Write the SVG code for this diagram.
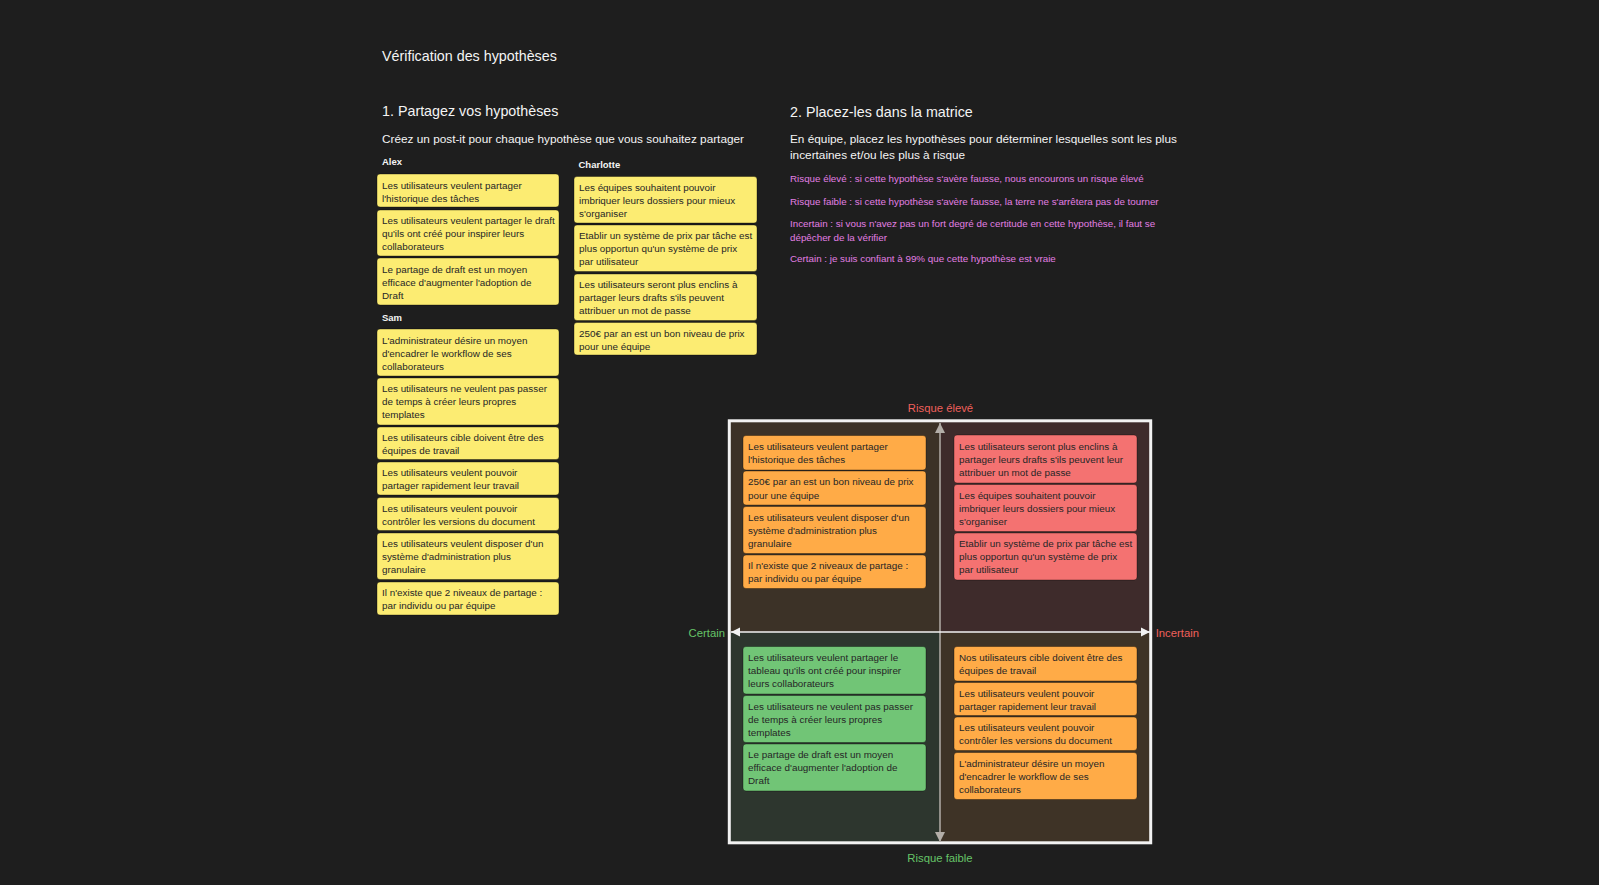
<svg xmlns="http://www.w3.org/2000/svg" width="1599" height="885" viewBox="0 0 1599 885">
<style>
.t{font-family:"Liberation Sans",Arial,sans-serif}
.h{font-size:14.3px;fill:#f4f4f4}
.sub{font-size:11.8px;fill:#f4f4f4}
.who{font-size:9.5px;font-weight:bold;fill:#f4f4f4}
.pk{font-size:9.8px;fill:#e27fe3}
.n{font-size:9.87px;fill:#262626}
.note{stroke:#000;stroke-opacity:0.35;stroke-width:1}
.y{fill:#fcec72}
.o{fill:#ffab47}
.r{fill:#f47271}
.g{fill:#71c576}
.ax{font-size:11.3px}
</style>
<defs>
<marker id="ag" viewBox="0 0 10 10" refX="10" refY="5" markerWidth="10" markerHeight="10" markerUnits="userSpaceOnUse" orient="auto-start-reverse"><path d="M0,0 L10,5 L0,10 z" fill="#b3aea8"/></marker>
<marker id="aw" viewBox="0 0 10 10" refX="10" refY="5" markerWidth="9" markerHeight="10" markerUnits="userSpaceOnUse" orient="auto-start-reverse"><path d="M0,0 L10,5 L0,10 z" fill="#f2f2f2"/></marker>
</defs>
<rect x="0" y="0" width="1599" height="885" fill="#1e1e1e"/>

<g id="headers" class="t">
<text class="h" x="382" y="60.7">Vérification des hypothèses</text>
<text class="h" x="382" y="116">1. Partagez vos hypothèses</text>
<text class="sub" x="382" y="143.3">Créez un post-it pour chaque hypothèse que vous souhaitez partager</text>
<text class="who" x="382" y="165">Alex</text>
<text class="who" x="578.5" y="168.3">Charlotte</text>
<text class="who" x="382" y="320.7">Sam</text>
<text class="h" x="790" y="116.7">2. Placez-les dans la matrice</text>
<text class="sub" x="790" y="143.3">En équipe, placez les hypothèses pour déterminer lesquelles sont les plus</text>
<text class="sub" x="790" y="159">incertaines et/ou les plus à risque</text>
<text class="pk" x="790" y="182.3">Risque élevé : si cette hypothèse s'avère fausse, nous encourons un risque élevé</text>
<text class="pk" x="790" y="205">Risque faible : si cette hypothèse s'avère fausse, la terre ne s'arrêtera pas de tourner</text>
<text class="pk" x="790" y="226.7">Incertain : si vous n'avez pas un fort degré de certitude en cette hypothèse, il faut se</text>
<text class="pk" x="790" y="240.7">dépêcher de la vérifier</text>
<text class="pk" x="790" y="262.3">Certain : je suis confiant à 99% que cette hypothèse est vraie</text>
</g>

<g id="matrix">
<rect x="729" y="420.5" width="211" height="211.5" fill="#3c3227"/>
<rect x="940" y="420.5" width="211" height="211.5" fill="#3e2b2b"/>
<rect x="729" y="632" width="211" height="211" fill="#2d362e"/>
<rect x="940" y="632" width="211" height="211" fill="#3e3326"/>
<rect x="729.3" y="420.8" width="421.4" height="422" fill="none" stroke="#f2f2f2" stroke-width="3"/>
<g class="t ax">
<text x="940.5" y="411.7" text-anchor="middle" fill="#f0605c">Risque élevé</text>
<text x="940" y="862" text-anchor="middle" fill="#66c468">Risque faible</text>
<text x="725" y="636.7" text-anchor="end" fill="#66c468">Certain</text>
<text x="1155.7" y="636.7" fill="#f0605c">Incertain</text>
</g>
</g>

<g id="connectors">
<line x1="940" y1="423" x2="940" y2="842" stroke="#b3aea8" stroke-width="1.5" marker-start="url(#ag)" marker-end="url(#ag)"/>
<line x1="731" y1="632" x2="1150" y2="632" stroke="#f2f2f2" stroke-width="1.5" marker-start="url(#aw)" marker-end="url(#aw)"/>
</g>

<g class="t n">
<g id="alex1"><rect class="note y" x="377" y="174" width="182" height="33" rx="3"/><text x="382" y="188.5">Les utilisateurs veulent partager</text><text x="382" y="201.5">l'historique des tâches</text></g>
<g id="alex2"><rect class="note y" x="377" y="210" width="182" height="46" rx="3"/><text x="382" y="224">Les utilisateurs veulent partager le draft</text><text x="382" y="237">qu'ils ont créé pour inspirer leurs</text><text x="382" y="250">collaborateurs</text></g>
<g id="alex3"><rect class="note y" x="377" y="258" width="182" height="47" rx="3"/><text x="382" y="272.5">Le partage de draft est un moyen</text><text x="382" y="285.5">efficace d'augmenter l'adoption de</text><text x="382" y="298.5">Draft</text></g>

<g id="sam1"><rect class="note y" x="377" y="329" width="182" height="47" rx="3"/><text x="382" y="343.5">L'administrateur désire un moyen</text><text x="382" y="356.5">d'encadrer le workflow de ses</text><text x="382" y="369.5">collaborateurs</text></g>
<g id="sam2"><rect class="note y" x="377" y="378" width="182" height="47" rx="3"/><text x="382" y="392">Les utilisateurs ne veulent pas passer</text><text x="382" y="405">de temps à créer leurs propres</text><text x="382" y="418">templates</text></g>
<g id="sam3"><rect class="note y" x="377" y="427" width="182" height="32.5" rx="3"/><text x="382" y="441">Les utilisateurs cible doivent être des</text><text x="382" y="454">équipes de travail</text></g>
<g id="sam4"><rect class="note y" x="377" y="462" width="182" height="33" rx="3"/><text x="382" y="476">Les utilisateurs veulent pouvoir</text><text x="382" y="489">partager rapidement leur travail</text></g>
<g id="sam5"><rect class="note y" x="377" y="497.5" width="182" height="33" rx="3"/><text x="382" y="511.5">Les utilisateurs veulent pouvoir</text><text x="382" y="524.5">contrôler les versions du document</text></g>
<g id="sam6"><rect class="note y" x="377" y="533" width="182" height="46.5" rx="3"/><text x="382" y="547">Les utilisateurs veulent disposer d'un</text><text x="382" y="560">système d'administration plus</text><text x="382" y="573">granulaire</text></g>
<g id="sam7"><rect class="note y" x="377" y="582" width="182" height="33" rx="3"/><text x="382" y="596">Il n'existe que 2 niveaux de partage :</text><text x="382" y="609">par individu ou par équipe</text></g>

<g id="charlotte1"><rect class="note y" x="574" y="176.5" width="183" height="46.5" rx="3"/><text x="579" y="190.5">Les équipes souhaitent pouvoir</text><text x="579" y="203.5">imbriquer leurs dossiers pour mieux</text><text x="579" y="216.5">s'organiser</text></g>
<g id="charlotte2"><rect class="note y" x="574" y="225" width="183" height="46.5" rx="3"/><text x="579" y="239">Etablir un système de prix par tâche est</text><text x="579" y="252">plus opportun qu'un système de prix</text><text x="579" y="265">par utilisateur</text></g>
<g id="charlotte3"><rect class="note y" x="574" y="274" width="183" height="46.5" rx="3"/><text x="579" y="288">Les utilisateurs seront plus enclins à</text><text x="579" y="301">partager leurs drafts s'ils peuvent</text><text x="579" y="314">attribuer un mot de passe</text></g>
<g id="charlotte4"><rect class="note y" x="574" y="322.5" width="183" height="32.5" rx="3"/><text x="579" y="336.5">250€ par an est un bon niveau de prix</text><text x="579" y="349.5">pour une équipe</text></g>

<g id="tl1"><rect class="note o" x="743" y="435.5" width="183" height="34.5" rx="3"/><text x="748" y="450">Les utilisateurs veulent partager</text><text x="748" y="463">l'historique des tâches</text></g>
<g id="tl2"><rect class="note o" x="743" y="471" width="183" height="34" rx="3"/><text x="748" y="485">250€ par an est un bon niveau de prix</text><text x="748" y="498.5">pour une équipe</text></g>
<g id="tl3"><rect class="note o" x="743" y="506.5" width="183" height="47" rx="3"/><text x="748" y="520.5">Les utilisateurs veulent disposer d'un</text><text x="748" y="533.5">système d'administration plus</text><text x="748" y="546.5">granulaire</text></g>
<g id="tl4"><rect class="note o" x="743" y="555" width="183" height="33.5" rx="3"/><text x="748" y="569">Il n'existe que 2 niveaux de partage :</text><text x="748" y="582">par individu ou par équipe</text></g>

<g id="tr1"><rect class="note r" x="954" y="435" width="183" height="48" rx="3"/><text x="959" y="449.5">Les utilisateurs seront plus enclins à</text><text x="959" y="462.5">partager leurs drafts s'ils peuvent leur</text><text x="959" y="475.5">attribuer un mot de passe</text></g>
<g id="tr2"><rect class="note r" x="954" y="484.5" width="183" height="47" rx="3"/><text x="959" y="498.5">Les équipes souhaitent pouvoir</text><text x="959" y="511.5">imbriquer leurs dossiers pour mieux</text><text x="959" y="524.5">s'organiser</text></g>
<g id="tr3"><rect class="note r" x="954" y="533" width="183" height="47" rx="3"/><text x="959" y="547">Etablir un système de prix par tâche est</text><text x="959" y="560">plus opportun qu'un système de prix</text><text x="959" y="573">par utilisateur</text></g>

<g id="bl1"><rect class="note g" x="743" y="646.5" width="183" height="47.5" rx="3"/><text x="748" y="661">Les utilisateurs veulent partager le</text><text x="748" y="674">tableau qu'ils ont créé pour inspirer</text><text x="748" y="687">leurs collaborateurs</text></g>
<g id="bl2"><rect class="note g" x="743" y="695.5" width="183" height="47" rx="3"/><text x="748" y="709.5">Les utilisateurs ne veulent pas passer</text><text x="748" y="722.5">de temps à créer leurs propres</text><text x="748" y="735.5">templates</text></g>
<g id="bl3"><rect class="note g" x="743" y="744" width="183" height="47" rx="3"/><text x="748" y="758">Le partage de draft est un moyen</text><text x="748" y="771">efficace d'augmenter l'adoption de</text><text x="748" y="784">Draft</text></g>

<g id="br1"><rect class="note o" x="954" y="646.5" width="183" height="34.5" rx="3"/><text x="959" y="661">Nos utilisateurs cible doivent être des</text><text x="959" y="674">équipes de travail</text></g>
<g id="br2"><rect class="note o" x="954" y="682.5" width="183" height="33" rx="3"/><text x="959" y="696.5">Les utilisateurs veulent pouvoir</text><text x="959" y="709.5">partager rapidement leur travail</text></g>
<g id="br3"><rect class="note o" x="954" y="717" width="183" height="33.5" rx="3"/><text x="959" y="731">Les utilisateurs veulent pouvoir</text><text x="959" y="744">contrôler les versions du document</text></g>
<g id="br4"><rect class="note o" x="954" y="752.5" width="183" height="47" rx="3"/><text x="959" y="766.5">L'administrateur désire un moyen</text><text x="959" y="779.5">d'encadrer le workflow de ses</text><text x="959" y="792.5">collaborateurs</text></g>
</g>
</svg>
